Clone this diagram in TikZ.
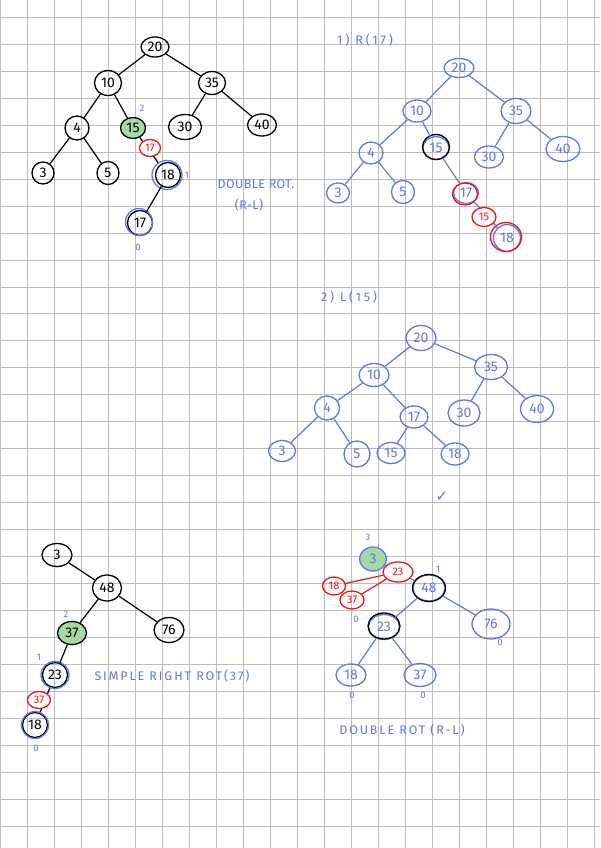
\documentclass[tikz,border=0pt]{standalone}
\usepackage{fontspec}
\setmainfont{Fira Sans}
\newfontfamily\symfont{DejaVu Sans}
\newfontfamily\notewide[LetterSpace=22]{Fira Sans}
\newfontfamily\notemid[LetterSpace=15]{Fira Sans}
\newfontfamily\notenar[LetterSpace=3]{Fira Sans}
\usetikzlibrary{shapes.geometric}
\definecolor{inkblue}{RGB}{98,118,232}
\definecolor{inkred}{RGB}{240,20,20}
\definecolor{inkgreen}{RGB}{166,216,166}
\definecolor{gridc}{RGB}{188,188,188}
\tikzset{
  nd/.style={ellipse, inner sep=0pt, line width=1.3pt, font=\fontsize{14}{15}\selectfont, minimum width=26pt, minimum height=22pt},
  bk/.style={nd, draw=black, text=black},
  bl/.style={nd, draw=inkblue, text=inkblue},
  rd/.style={nd, draw=inkred, text=inkred, font=\fontsize{11}{12}\selectfont, minimum width=23pt, minimum height=18pt},
  ring/.style={ellipse, inner sep=0pt, line width=1.3pt, draw=#1},
  bkedge/.style={draw=black, line width=1.2pt},
  bledge/.style={draw=inkblue, line width=1.2pt},
  rdedge/.style={draw=inkred, line width=1.2pt},
  lab/.style={text=inkblue, font=\fontsize{9.5}{10}\selectfont, inner sep=0pt},
  notew/.style={text=inkblue, font=\notewide\fontsize{12.5}{13}\selectfont, inner sep=0pt},
  notem/.style={text=inkblue, font=\notemid\fontsize{12.5}{13}\selectfont, inner sep=0pt},
  noten/.style={text=inkblue, font=\notenar\fontsize{12.5}{13}\selectfont, inner sep=0pt}
}
\begin{document}
\begin{tikzpicture}[x=1pt,y=-1pt]
\useasboundingbox (0,0) rectangle (600,848);
\fill[white] (0,0) rectangle (600,848);
\foreach \i in {0,...,22} \draw[gridc, line width=0.8pt] ({0.3+27*\i},0) -- ({0.3+27*\i},848);
\foreach \j in {0,...,30} \draw[gridc, line width=0.8pt] (0,{17.3+26.96*\j}) -- (600,{17.3+26.96*\j});

% ---------- Tree 1 ----------
\node[bk, minimum width=28pt, minimum height=20pt] (a20) at (155,47) {20};
\node[bk, minimum width=27pt, minimum height=25pt] (a10) at (108,83) {10};
\node[bk, minimum width=27pt, minimum height=23pt] (a35) at (212,83) {35};
\node[bk, minimum width=24pt, minimum height=24pt] (a4) at (77,128) {4};
\node[bk, fill=inkgreen, minimum width=25pt, minimum height=21pt] (a15) at (133,128) {15};
\node[bk, minimum width=33pt, minimum height=25pt] (a30) at (185,127) {30};
\node[bk, minimum width=29pt, minimum height=22pt] (a40) at (262,125) {40};
\node[bk, minimum width=22pt, minimum height=22pt] (a3) at (43,173) {3};
\node[bk, minimum width=22pt, minimum height=23pt] (a5) at (108,173) {5};
\node[bk, minimum width=25pt, minimum height=25pt] (a18) at (168,175) {18};
\node[ring=inkblue, minimum width=30pt, minimum height=29pt] (a18r) at (167,175) {};
\node[bk, minimum width=25pt, minimum height=25pt] (a17) at (140,223) {17};
\node[ring=inkblue, minimum width=27pt, minimum height=27pt] (a17r) at (139,222) {};
\draw[bkedge] (a20) -- (a10);
\draw[bkedge] (a20) -- (a35);
\draw[bkedge] (a10) -- (a4);
\draw[bkedge] (a10) -- (a15);
\draw[bkedge] (a35) -- (a30);
\draw[bkedge] (a35) -- (a40);
\draw[bkedge] (a4) -- (a3);
\draw[bkedge] (a4) -- (a5);
\draw[bkedge] (a15) -- (a18r);
\draw[bkedge] (a18) -- (a17);
\node[rd, fill=white, minimum width=21pt, minimum height=17pt] (ar17) at (150,148) {17};
\node[lab] (al2) at (142,108) {2};
\node[lab] (al1) at (187,175) {1};
\node[lab] (al0) at (138,247) {0};
\node[noten] (at1) at (256,184) {DOUBLE ROT.};
\node[noten] (at2) at (249,205) {(R-L)};

% ---------- Tree 2 ----------
\node[notew] (bt) at (365,40) {1) R(17)};
\node[bl, minimum width=30pt, minimum height=19pt] (b20) at (459,68) {20};
\node[bl, minimum width=28pt, minimum height=22pt] (b10) at (417,111) {10};
\node[bl, minimum width=30pt, minimum height=25pt] (b35) at (516,111) {35};
\node[bl, minimum width=24pt, minimum height=22pt] (b4) at (371,153) {4};
\node[bl, minimum width=26pt, minimum height=23pt] (b15) at (436,148) {15};
\node[ring=black, minimum width=27pt, minimum height=25pt] (b15r) at (436,147) {};
\node[bl, minimum width=29pt, minimum height=22pt] (b30) at (489,157) {30};
\node[bl, minimum width=34pt, minimum height=25pt] (b40) at (563,149) {40};
\node[bl, minimum width=23pt, minimum height=20pt] (b3) at (338,193) {3};
\node[bl, minimum width=23pt, minimum height=23pt] (b5) at (403,192) {5};
\node[bl, minimum width=25pt, minimum height=21pt] (b17) at (466,193) {17};
\node[ring=inkred, minimum width=25pt, minimum height=22pt] (b17r) at (465,194) {};
\node[bl, minimum width=27pt, minimum height=27pt] (b18) at (507,238) {18};
\node[ring=inkred, minimum width=31pt, minimum height=29pt] (b18r) at (506,237) {};
\draw[bledge] (b20) -- (b10);
\draw[bledge] (b20) -- (b35);
\draw[bledge] (b10) -- (b4);
\draw[bledge] (b10) -- (b15);
\draw[bledge] (b35) -- (b30);
\draw[bledge] (b35) -- (b40);
\draw[bledge] (b4) -- (b3);
\draw[bledge] (b4) -- (b5);
\draw[bledge] (b15) -- (b17);
\draw[bledge] (b17) -- (b18);
\node[rd, fill=white, minimum width=24pt, minimum height=19pt] (br15) at (484,217) {15};

% ---------- Tree 3 ----------
\node[notew] (ct) at (349,297) {2) L(15)};
\node[bl, minimum width=30pt, minimum height=25pt] (c20) at (421,338) {20};
\node[bl, minimum width=30pt, minimum height=23pt] (c10) at (374,375) {10};
\node[bl, minimum width=33pt, minimum height=25pt] (c35) at (491,367) {35};
\node[bl, minimum width=25pt, minimum height=24pt] (c4) at (327,408) {4};
\node[bl, minimum width=28pt, minimum height=22pt] (c17) at (414,417) {17};
\node[bl, minimum width=32pt, minimum height=26pt] (c30) at (464,413) {30};
\node[bl, minimum width=33pt, minimum height=27pt] (c40) at (537,409) {40};
\node[bl, minimum width=27pt, minimum height=21pt] (c3) at (282,451) {3};
\node[bl, minimum width=26pt, minimum height=26pt] (c5) at (357,454) {5};
\node[bl, minimum width=28pt, minimum height=21pt] (c15) at (391,453) {15};
\node[bl, minimum width=28pt, minimum height=22pt] (c18) at (455,454) {18};
\draw[bledge] (c20) -- (c10);
\draw[bledge] (c20) -- (c35);
\draw[bledge] (c10) -- (c4);
\draw[bledge] (c10) -- (c17);
\draw[bledge] (c35) -- (c30);
\draw[bledge] (c35) -- (c40);
\draw[bledge] (c4) -- (c3);
\draw[bledge] (c4) -- (c5);
\draw[bledge] (c17) -- (c15);
\draw[bledge] (c17) -- (c18);
\node[text=inkblue, font=\symfont\fontsize{15}{16}\selectfont, inner sep=0pt] (chk) at (442,497) {✓};

% ---------- Tree 4 ----------
\node[bk, minimum width=30pt, minimum height=23pt] (d3) at (57,555) {3};
\node[bk, minimum width=29pt, minimum height=26pt] (d48) at (107,588) {48};
\node[bk, fill=inkgreen, minimum width=29pt, minimum height=23pt] (d37) at (72,633) {37};
\node[bk, minimum width=30pt, minimum height=25pt] (d76) at (169,630) {76};
\node[bk, minimum width=25pt, minimum height=25pt] (d23) at (55,675) {23};
\node[ring=inkblue, minimum width=28pt, minimum height=27pt] (d23r) at (55,675) {};
\node[bk, minimum width=25pt, minimum height=25pt] (d18) at (35,725) {18};
\node[ring=inkblue, minimum width=27pt, minimum height=27pt] (d18r) at (35,725) {};
\draw[bkedge] (d3) -- (d48);
\draw[bkedge] (d48) -- (d37);
\draw[bkedge] (d48) -- (d76);
\draw[bkedge] (d37) -- (d23);
\draw[bkedge] (d23r) -- (d18r);
\node[rd, fill=white, minimum width=23pt, minimum height=17pt] (dr37) at (39,700) {37};
\node[lab] (dl2) at (66,614) {2};
\node[lab] (dl1) at (39,657) {1};
\node[lab] (dl0) at (36,748) {0};
\node[notem] (dt) at (172,676) {SIMPLE RIGHT ROT(37)};

% ---------- Tree 5 ----------
\node[bl, fill=inkgreen, minimum width=27pt, minimum height=24pt] (e3) at (373,559) {3};
\node[bl, minimum width=32pt, minimum height=26pt] (e48) at (429,588) {48};
\node[ring=black, minimum width=33pt, minimum height=27pt] (e48r) at (429,588) {};
\node[bl, minimum width=31pt, minimum height=25pt] (e23) at (384,627) {23};
\node[ring=black, minimum width=32pt, minimum height=26pt] (e23r) at (384,626) {};
\node[bl, minimum width=38pt, minimum height=30pt] (e76) at (491,624) {76};
\node[bl, minimum width=30pt, minimum height=22pt] (e18) at (351,675) {18};
\node[bl, minimum width=32pt, minimum height=23pt] (e37) at (420,675) {37};
\draw[bledge] (e3) -- (e48);
\node[rd, fill=white, minimum width=30pt, minimum height=20pt] (er23) at (398,572) {23};
\node[rd, minimum width=23pt, minimum height=18pt] (er18) at (334,586) {18};
\node[rd, minimum width=24pt, minimum height=18pt] (er37) at (352,600) {37};
\draw[bledge] (e48) -- (e23);
\draw[bledge] (e48) -- (e76);
\draw[bledge] (e23) -- (e18);
\draw[bledge] (e23) -- (e37);
\draw[rdedge] (er18) -- (er23);
\draw[rdedge] (er37) -- (er23);
\node[lab] (el3) at (368,537) {3};
\node[lab] (el0a) at (356,619) {0};
\node[lab] (el1) at (438,569) {1};
\node[lab] (el0b) at (500,642) {0};
\node[lab] (el0c) at (352,695) {0};
\node[lab] (el0d) at (423,695) {0};
\node[notem] (et) at (402,730) {DOUBLE ROT (R-L)};
\end{tikzpicture}
\end{document}
